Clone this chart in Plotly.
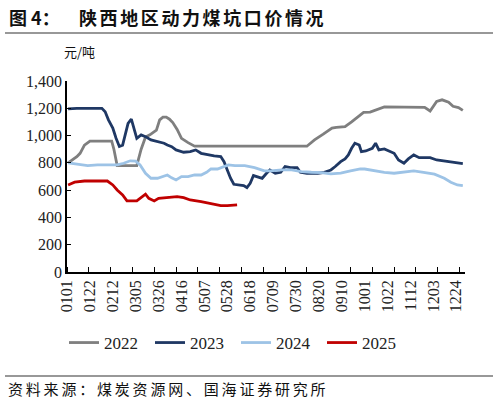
import datetime as dt
import plotly.graph_objects as go

# 陕西地区动力煤坑口价（元/吨），横轴按月日对齐
dates_2022 = ["01-02", "01-10", "01-13", "01-17", "01-22", "02-11", "02-13", "02-16", "03-06",
              "03-10", "03-14", "03-18", "03-24", "03-27", "03-30", "04-02", "04-05", "04-08",
              "04-12", "04-16", "04-22", "04-28", "08-09", "08-16", "08-24", "09-01", "09-05",
              "09-13", "09-19", "09-25", "09-30", "10-06", "10-13", "10-19", "11-25", "11-30",
              "12-06", "12-11", "12-17", "12-21", "12-26", "12-30"]
price_2022 = [800, 845, 870, 930, 960, 960, 900, 780, 780,
              900, 990, 1005, 1040, 1115, 1135, 1135, 1120, 1095,
              1045, 980, 948, 922, 922, 968, 1010, 1055, 1060,
              1065, 1100, 1140, 1170, 1172, 1195, 1210, 1207, 1180,
              1250, 1262, 1245, 1215, 1205, 1185]

dates_2023 = ["01-02", "01-10", "02-02", "02-05", "02-08", "02-12", "02-15", "02-18", "02-21",
              "02-23", "02-26", "03-01", "03-03", "03-06", "03-10", "03-14", "03-19", "03-25",
              "03-31", "04-03", "04-07", "04-11", "04-18", "04-24", "04-29", "05-04", "05-10",
              "05-16", "05-22", "05-25", "05-28", "05-31", "06-03", "06-08", "06-12", "06-15",
              "06-18", "06-21", "06-24", "06-29", "07-03", "07-06", "07-11", "07-16", "07-20",
              "07-25", "07-31", "08-03", "08-09", "08-19", "08-25", "08-31", "09-04", "09-09",
              "09-13", "09-16", "09-19", "09-22", "09-26", "09-28", "10-02", "10-05", "10-08",
              "10-11", "10-14", "10-19", "10-23", "10-28", "11-01", "11-06", "11-10", "11-15",
              "11-20", "11-24", "11-30", "12-06", "12-12", "12-19", "12-25", "12-30"]
price_2023 = [1195, 1200, 1200, 1175, 1115, 1055, 980, 920, 930,
              990, 1090, 1120, 1066, 980, 1005, 992, 968, 956,
              944, 931, 919, 895, 878, 883, 895, 870, 858,
              851, 846, 809, 748, 687, 643, 638, 633, 619,
              650, 707, 699, 687, 724, 748, 724, 731, 773,
              765, 765, 731, 724, 724, 731, 748, 773, 809,
              829, 858, 907, 944, 931, 882, 887, 895, 907,
              944, 895, 902, 887, 870, 821, 797, 829, 858,
              838, 838, 838, 821, 814, 809, 804, 795]

dates_2024 = ["01-02", "01-11", "01-20", "01-29", "02-07", "02-16", "02-22", "02-28", "03-05",
              "03-09", "03-14", "03-19", "03-25", "03-29", "04-03", "04-07", "04-11", "04-16",
              "04-22", "04-28", "05-04", "05-09", "05-13", "05-19", "05-24", "05-29", "06-04",
              "06-13", "06-22", "07-01", "07-07", "07-17", "07-26", "08-04", "08-13", "08-22",
              "08-31", "09-09", "09-18", "09-27", "10-01", "10-10", "10-19", "10-28", "11-06",
              "11-15", "11-24", "12-04", "12-13", "12-19", "12-25", "12-30"]
price_2024 = [800, 790, 780, 785, 785, 785, 797, 815, 812,
              785, 724, 687, 687, 699, 711, 690, 675, 699,
              699, 711, 711, 731, 755, 755, 773, 785, 780,
              780, 765, 741, 741, 748, 748, 736, 731, 729,
              719, 724, 741, 755, 755, 741, 731, 724, 731,
              741, 731, 717, 687, 658, 638, 633]

dates_2025 = ["01-02", "01-08", "01-17", "02-07", "02-12", "02-16", "02-21", "02-25", "03-06",
              "03-11", "03-14", "03-17", "03-22", "03-26", "04-03", "04-07", "04-12", "04-18",
              "04-24", "05-04", "05-13", "05-22", "05-28", "06-06"]
price_2025 = [638, 658, 667, 667, 638, 601, 565, 521, 521,
              553, 570, 540, 521, 540, 545, 545, 553, 545,
              528, 516, 504, 487, 487, 492]

tick_labels = ["0101", "0122", "0212", "0305", "0326", "0416", "0507", "0528", "0618",
               "0709", "0730", "0820", "0910", "1001", "1022", "1112", "1203", "1224"]

years = ["2022", "2023", "2024", "2025"]
colors = ["#7F7F7F", "#1F3864", "#9DC3E6", "#C00000"]
series = [(dates_2022, price_2022), (dates_2023, price_2023),
          (dates_2024, price_2024), (dates_2025, price_2025)]


def day_of_year(mmdd):
    s = mmdd.replace("-", "")
    return (dt.date(2022, int(s[:2]), int(s[2:])) - dt.date(2022, 1, 1)).days


SERIF = "Liberation Serif, Times New Roman, serif"
CJK = "Noto Sans CJK SC"

fig = go.Figure()
for name, color, (d, v) in zip(years, colors, series):
    fig.add_trace(go.Scatter(
        x=[day_of_year(s) for s in d], y=v, name=name, mode="lines",
        line=dict(color=color, width=2.8)))

fig.update_xaxes(
    range=[0, 365],
    tickmode="array", tickvals=[day_of_year(t) for t in tick_labels], ticktext=tick_labels,
    tickangle=-90, ticks="", showgrid=False, zeroline=False,
    showline=True, linecolor="black", linewidth=1.5,
    minor=dict(ticks="inside", tickmode="linear", tick0=0, dtick=20,
               ticklen=5, tickcolor="black", tickwidth=1, showgrid=False),
    tickfont=dict(family=SERIF, size=16, color="#222"))
fig.update_yaxes(
    range=[0, 1400], dtick=200, tickformat=",", ticks="inside", ticklen=4,
    tickcolor="black", showgrid=False, zeroline=False,
    showline=True, linecolor="black", linewidth=1.5,
    tickfont=dict(family=SERIF, size=16, color="#222"))

W, H = 499, 403
L, R, T, B = 67, 34, 81, 131
pw, ph = W - L - R, H - T - B


def px_x(px):
    return (px - L) / pw


def px_y(py):
    return (H - B - py) / ph


notes = [
    ("<b>图 4：</b>", 7, 17, 18),
    ("<b><span style='letter-spacing:2.6px'>陕西地区动力煤坑口价情况</span></b>", 77, 17, 18),
    ("元/吨", 62, 52, 13),
    ("<span style='letter-spacing:2.8px'>资料来源：煤炭资源网、国海证券研究所</span>", 6, 388, 15),
]

fig.update_layout(
    width=W, height=H,
    margin=dict(l=L, r=R, t=T, b=B),
    paper_bgcolor="white", plot_bgcolor="white",
    showlegend=True,
    legend=dict(orientation="h", x=px_x(64), y=px_y(343), xanchor="left", yanchor="middle",
                entrywidth=41, entrywidthmode="pixels",
                font=dict(family=SERIF, size=17, color="#222")),
    annotations=[dict(text=t, showarrow=False, xref="paper", yref="paper",
                      x=px_x(x), y=px_y(y), xanchor="left", yanchor="middle",
                      font=dict(family=CJK, size=s, color="#111"))
                 for t, x, y, s in notes],
)

for py in (33, 376):
    fig.add_shape(type="line", xref="paper", yref="paper",
                  x0=px_x(5), x1=px_x(493), y0=px_y(py), y1=px_y(py),
                  line=dict(color="#333", width=1.2))

# 去掉页面 body 默认 8px 边距，让图从窗口左上角开始
fig.write_html("out.html", config={"displayModeBar": False},
               post_script="document.body.style.margin='0';")
